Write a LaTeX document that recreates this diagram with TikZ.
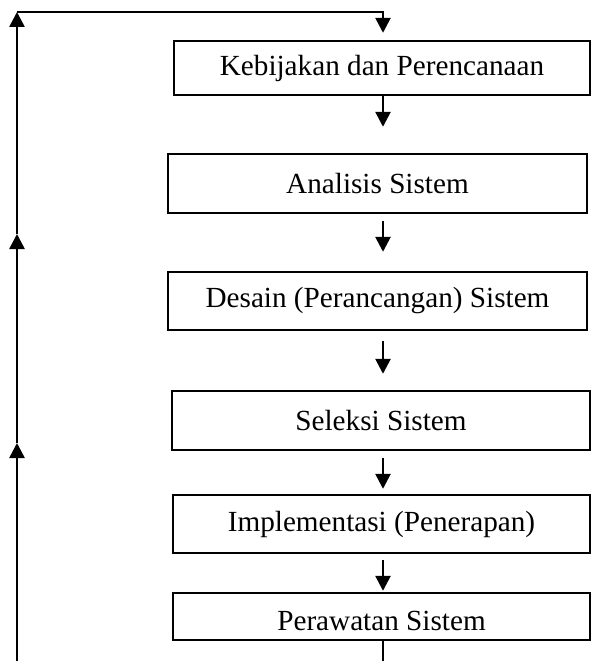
\documentclass[tikz,border=0pt]{standalone}
\usepackage{fontspec}
\setmainfont{Liberation Serif}
\usepackage{tikz}
\usetikzlibrary{arrows.meta,positioning}
\tikzstyle{block} = [rectangle, draw, line width=2.4pt, inner sep=0pt,
    minimum width=417pt, minimum height=58pt, font=\fontsize{29.2}{34}\selectfont]
\tikzstyle{line} = [draw, line width=2.6pt, -{Triangle[length=15pt,width=15pt]}]

\begin{document}
\begin{tikzpicture}[x=1pt,y=-1pt]
    \useasboundingbox (0,0) rectangle (591,661);
    % Place nodes
    \node [block, minimum width=416pt, minimum height=54pt] (kebijakan) at (382,68) {Kebijakan dan Perencanaan};
    \node [block, minimum width=419pt, minimum height=59pt] (analisis) at (377.5,183.5) {Analisis Sistem};
    \node [block, minimum width=419pt] (desain) at (377.5,301) {Desain (Perancangan) Sistem};
    \node [block, minimum width=418pt, minimum height=59pt] (seleksi) at (381,420.5) {Seleksi Sistem};
    \node [block] (implementasi) at (381.5,524) {Implementasi (Penerapan)};
    \node [block, minimum height=47pt, text height=28pt, text depth=0pt] (perawatan) at (381.5,616.5) {Perawatan Sistem};
    \coordinate (top) at (383,12);
    \coordinate (corner) at (17,12);
    \coordinate (back1) at (17,234);
    \coordinate (back2) at (17,443);
    \coordinate (bottom) at (17,661);
    \coordinate (end) at (383,661);
    % Draw edges
    \path [line, shorten >=26pt] (kebijakan.south -| top) -- (analisis.north -| top);
    \path [line, shorten <=7pt, shorten >=19pt] (analisis.south -| top) -- (desain.north -| top);
    \path [line, shorten <=10pt, shorten >=16pt] (desain.south -| top) -- (seleksi.north -| top);
    \path [line, shorten <=7pt, shorten >=5pt] (seleksi.south -| top) -- (implementasi.north -| top);
    \path [line, shorten <=6pt, shorten >=1pt] (implementasi.south -| top) -- (perawatan.north -| top);
    \draw [line width=2.6pt] (perawatan.south -| top) -- (end);
    % Feedback line
    \path [line] (bottom) -- (back2);
    \path [line] (back2) -- (back1);
    \path [line] (back1) -- (corner);
    \path [line, shorten >=7pt] (corner) -- (top) -- (kebijakan.north -| top);
\end{tikzpicture}
\end{document}
